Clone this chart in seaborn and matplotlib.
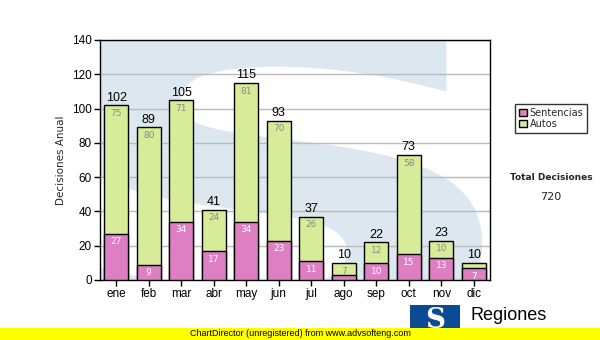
import matplotlib
matplotlib.use("Agg")
import matplotlib.pyplot as plt
import seaborn as sns
import pandas as pd
import numpy as np
from matplotlib.patches import Rectangle, Patch, PathPatch
from matplotlib.textpath import TextPath
from matplotlib.font_manager import FontProperties
from matplotlib.transforms import Affine2D

meses = ["ene", "feb", "mar", "abr", "may", "jun", "jul", "ago", "sep", "oct", "nov", "dic"]
sentencias = [27, 9, 34, 17, 34, 23, 11, 3, 10, 15, 13, 7]
autos = [75, 80, 71, 24, 81, 70, 26, 7, 12, 58, 10, 3]
total_label = "Total Decisiones"

sns.set_theme(style="white")
plt.rcParams['font.family'] = ['Liberation Sans', 'DejaVu Sans']

totales = [s + a for s, a in zip(sentencias, autos)]
df = pd.DataFrame({"mes": meses, "Sentencias": sentencias, "Autos": autos, "Total": totales})

fig = plt.figure(figsize=(6, 3.4), dpi=100)
ax = fig.add_axes([100/600, 1-280/340, 390/600, 240/340])
ax.set_facecolor("white")

# watermark S as a path (not text)
tp = TextPath((0, 0), "S", size=1, prop=FontProperties(family="DejaVu Sans", weight="bold"))
ext = tp.get_extents()
sx = 1.1 / ext.width
sy = 1.45 / ext.height
tr = Affine2D().translate(-ext.x0, -ext.y0).scale(sx, sy).translate(-0.12, -0.3)
path = tr.transform_path(tp)
wm = PathPatch(path, transform=ax.transAxes, facecolor="#dde7f0", edgecolor="none", zorder=0,
               clip_on=True)
ax.add_patch(wm)
wm.set_clip_path(ax.patch)

pink = "#de7fc3"
green = "#d6ec98"
sns.barplot(data=df, x="mes", y="Total", color=green, edgecolor="black", linewidth=1,
            width=0.74, ax=ax, saturation=1, zorder=3)
sns.barplot(data=df, x="mes", y="Sentencias", color=pink, edgecolor="black", linewidth=1,
            width=0.74, ax=ax, saturation=1, zorder=4)

ax.set_ylim(0, 140)
ax.set_xlim(-0.5, 11.5)
ax.set_yticks(range(0, 141, 20))
ax.yaxis.grid(True, color="#bbbbbb", linewidth=1, zorder=1)
ax.set_axisbelow(True)
for sp in ax.spines.values():
    sp.set_color("black")
    sp.set_linewidth(1)
ax.tick_params(axis="both", direction="out", length=4, width=1, color="black",
               labelsize=8.5, labelcolor="black", pad=2, bottom=True, left=True)
ax.set_xlabel("")
ax.set_ylabel("Decisiones Anual", fontsize=7.5, family="DejaVu Sans", labelpad=4)

for i, (s, a, t) in enumerate(zip(sentencias, autos, totales)):
    ax.text(i, t + 0.8, str(t), ha="center", va="bottom", fontsize=9, color="black", zorder=6)
    if a >= 5:
        ax.text(i, t - 2.2, str(a), ha="center", va="top", fontsize=6.5, color="#8a8a8a",
                family="DejaVu Sans", zorder=6)
    if s >= 5:
        ax.text(i, s - 2.2, str(s), ha="center", va="top", fontsize=6.5, color="white",
                family="DejaVu Sans", zorder=6)

handles = [Patch(facecolor=pink, edgecolor="black", label="Sentencias"),
           Patch(facecolor=green, edgecolor="black", label="Autos")]
leg = fig.legend(handles=handles, loc="upper left", bbox_to_anchor=(510/600, 1-99/340),
                 frameon=True, fancybox=False, edgecolor="black",
                 handlelength=0.8, handleheight=0.8, handletextpad=0.3, borderpad=0.4,
                 labelspacing=0.1, prop={"family": "DejaVu Sans", "size": 7})
leg.get_frame().set_linewidth(1)

fig.text(551/600, 1-178/340, total_label, ha="center", va="center", fontsize=6.5,
         fontweight="bold", family="DejaVu Sans")
fig.text(551/600, 1-197/340, str(sum(totales)), ha="center", va="center", fontsize=8,
         family="DejaVu Sans")

# logo
fig.patches.append(Rectangle((410/600, 1-335/340), 50/600, 30/340, transform=fig.transFigure,
                             facecolor="#0b4a94", edgecolor="none"))
fig.text(435/600, 1-320/340, "S", ha="center", va="center", fontsize=20, fontweight="bold",
         color="white", family="DejaVu Serif")
fig.text(470/600, 1-316/340, "Regiones", ha="left", va="center", fontsize=13, color="black")

# yellow banner
fig.patches.append(Rectangle((0, 0), 1, 12/340, transform=fig.transFigure,
                             facecolor="#ffff00", edgecolor="none", zorder=5))
fig.text(190/600, 6/340, "ChartDirector (unregistered) from www.advsofteng.com", ha="left",
         va="center", fontsize=6.5, color="black", zorder=6)

fig.savefig("out.png", dpi=100)
